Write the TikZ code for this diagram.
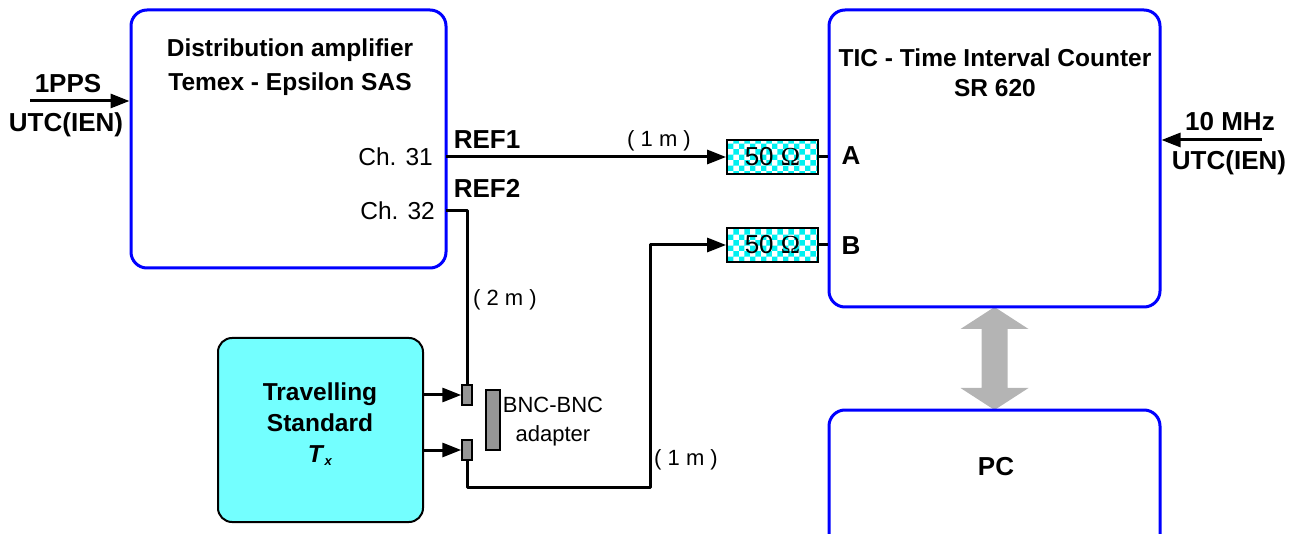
\documentclass[tikz,border=0pt]{standalone}
\usepackage{fontspec}
\setmainfont{Liberation Sans}
\newfontfamily\omegafont{Liberation Serif}
\usepackage{tikz}
\usetikzlibrary{positioning,arrows.meta,calc,patterns}
\definecolor{boxblue}{RGB}{0,0,255}
\definecolor{tscyan}{RGB}{115,255,255}
\definecolor{ohmcyan}{RGB}{0,240,240}
\definecolor{congray}{RGB}{150,150,150}
\definecolor{arrgray}{RGB}{180,180,180}
\newcommand{\ohm}{50 {\omegafont\char"03A9}}

\begin{document}
\begin{tikzpicture}[
  x=1pt, y=-1pt,
  inst/.style={draw=boxblue, line width=3pt, rounded corners=16pt, minimum width=#1},
  tsbox/.style={draw=black, line width=2pt, fill=tscyan, rounded corners=14pt, minimum width=205pt, minimum height=184pt},
  ohmbox/.style={draw=black, line width=1.8pt, pattern=checkerboard, pattern color=ohmcyan, minimum width=91pt, minimum height=34pt, inner sep=0pt, font=\fontsize{26}{28}\selectfont},
  conn/.style={draw=black, line width=1.5pt, fill=congray, inner sep=0pt, minimum width=10pt, minimum height=20pt},
  wire/.style={line width=3pt, black, line join=round},
  arr/.style={wire, -{Triangle[length=19pt, width=14pt]}},
  bigarr/.style={fill=arrgray},
  bold/.style={font=\fontsize{24.5}{30}\selectfont\bfseries, inner sep=1pt, align=center},
  ext/.style={font=\fontsize{26}{30}\selectfont\bfseries, inner sep=1pt, align=center},
  txt/.style={font=\fontsize{24.5}{30}\selectfont, inner sep=1pt, align=center},
  len/.style={font=\fontsize{22}{26}\selectfont, inner sep=1pt, align=center}
]
\useasboundingbox (0,0) rectangle (1301,534);
% PC link
\fill[bigarr] (994.5,307) -- ++(34,22) -- ++(-21,0) -- ++(0,59) -- ++(21,0) -- ++(-34,22)
  -- ++(-34,-22) -- ++(21,0) -- ++(0,-59) -- ++(-21,0) -- cycle;
% Instruments
\node[inst=315pt, minimum height=258pt] (dist) at (288.5,139) {};
\node[bold, font=\fontsize{24.5}{34}\selectfont\bfseries] (disttitle) at (290,67) {Distribution amplifier\\ Temex - Epsilon SAS};
\node[inst=331pt, minimum height=297pt] (tic) at (994.5,158.5) {};
\node[bold] (tictitle) at (995,73) {TIC - Time Interval Counter\\ SR 620};
\node[inst=331pt, minimum height=170pt] (pc) at (994.5,495) {};
\node[ext] (pclabel) at (996,467) {PC};
\node[tsbox] (ts) at (320.5,430) {};
\node[bold, font=\fontsize{24.5}{31}\selectfont\bfseries] (tslabel) at (320,424) {Travelling\\ Standard\\ \textit{T}{\fontsize{13}{13}\selectfont\raisebox{-3pt}{\textit{x}}}};
% Inputs
\coordinate (ppsin) at (30,101);
\draw[arr] (ppsin) -- (dist.west |- ppsin);
\node[ext] (pps) at (68,84) {1PPS};
\node[ext] (ppsref) at (66,125) {UTC(IEN)};
\coordinate (mhzin) at (1262,140);
\draw[arr] (mhzin) -- (tic.east |- mhzin);
\node[ext] (mhz) at (1230,122) {10 MHz};
\node[ext] (mhzref) at (1229,163) {UTC(IEN)};
% Channels
\coordinate (ch31) at (446,157);
\coordinate (ch32) at (446,211);
\node[txt, left=12pt of ch31] (ch31lbl) {Ch. 31};
\node[txt, left=10pt of ch32] (ch32lbl) {Ch. 32};
\node[ext] (ref1) at (487,140) {REF1};
\node[ext] (ref2) at (487,188) {REF2};
% Terminations
\node[ohmbox] (ohmA) at (772.5,157) {\ohm};
\node[ohmbox] (ohmB) at (772.5,245) {\ohm};
\draw[wire] (ohmA.east) -- (ohmA.east -| tic.west);
\draw[wire] (ohmB.east) -- (ohmB.east -| tic.west);
\node[ext] (portA) at (851,156) {A};
\node[ext] (portB) at (851,246) {B};
% Adapter
\node[conn] (conup) at (467,395) {};
\node[conn] (condn) at (467,450) {};
\node[conn, minimum width=14pt, minimum height=60pt] (bnc) at (493,420) {};
\node[len, font=\fontsize{22}{29}\selectfont] (bnclbl) at (553,422) {BNC-BNC\\ adapter};
% Cables
\draw[arr] (ch31) -- (ohmA.west);
\node[len] (len1) at (659,141) {( 1 m )};
\draw[wire] (ch32) -| (conup.north);
\node[len] (len2) at (505,300) {( 2 m )};
\coordinate (bend) at (650,487);
\draw[arr] (condn.south) |- (bend) |- (ohmB.west);
\node[len] (len3) at (686,460) {( 1 m )};
\draw[arr] (ts.east |- conup) -- (conup.west);
\draw[arr] (ts.east |- condn) -- (condn.west);
\end{tikzpicture}
\end{document}
